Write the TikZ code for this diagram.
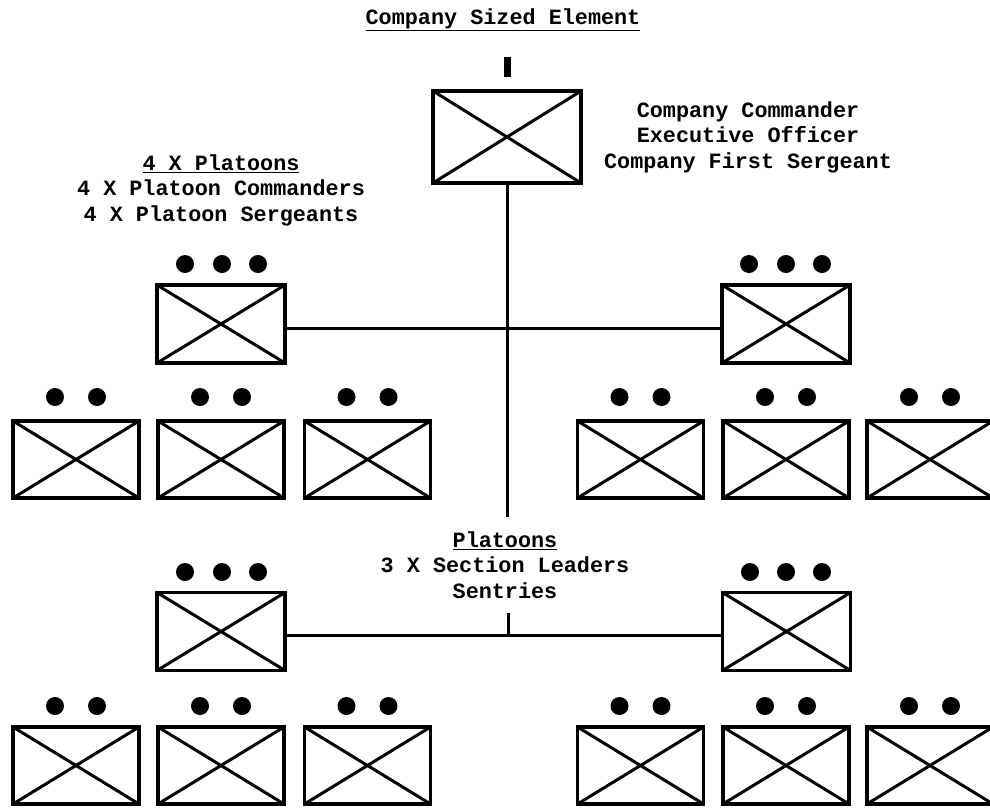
\documentclass[tikz,border=0pt]{standalone}
\usepackage{fontspec}
\newfontfamily\cour{Liberation Mono}
\begin{document}
\begin{tikzpicture}[x=1pt,y=-1pt,
 xbox/.style={draw, line width=3.5pt, rectangle, inner sep=0pt,
   path picture={\draw[line width=3pt] (path picture bounding box.north west) -- (path picture bounding box.south east)
     (path picture bounding box.north east) -- (path picture bounding box.south west);}},
 coybox/.style={xbox, minimum width=148pt, minimum height=92pt},
 pltbox/.style={xbox, minimum width=128pt, minimum height=78pt},
 secbox/.style={xbox, minimum width=126pt, minimum height=77pt},
 dotmark/.style={circle, fill, inner sep=0pt, minimum size=18pt},
 lbl/.style={font=\cour\bfseries\fontsize{21.8}{25.5}\selectfont, align=center, inner sep=0pt},
 conn/.style={line width=3pt}]
\useasboundingbox (0,0) rectangle (990,808);
\clip (0,0) rectangle (990,808);

% texts
\node[lbl] (title) at (503,20) {\underline{Company Sized Element}};
\node[lbl] (cmdtxt) at (748,137) {Company Commander\\Executive Officer\\Company First Sergeant};
\node[lbl] (pltxt) at (221,190) {\underline{4 X Platoons}\\4 X Platoon Commanders\\4 X Platoon Sergeants};
\node[lbl] (sectxt) at (505,565) {\underline{Platoons}\\3 X Section Leaders\\Sentries};

% company
\node[coybox] (coy) at (507,137) {};
\node[fill, inner sep=0pt, minimum width=7pt, minimum height=20pt] (hq) at (507,67) {};

% upper platoons
\node[pltbox] (pl) at (221,324) {};
\node[pltbox] (pr) at (786,324) {};
\foreach \x/\n in {185/a,222/b,258/c} \node[dotmark] (pld\n) at (\x,264) {};
\foreach \x/\n in {749/a,786/b,822/c} \node[dotmark] (prd\n) at (\x,264) {};

% upper sections
\foreach \x/\n in {76/1,221/2,367.5/3,640.5/4,786/5,930/6} {
  \node[secbox] (us\n) at (\x,459.5) {};
  \node[dotmark] (us\n a) at (\x-21,397) {};
  \node[dotmark] (us\n b) at (\x+21,397) {};
}

% lower platoons
\node[pltbox] (lpl) at (221,631.5) {};
\node[pltbox] (lpr) at (786.5,631.5) {};
\foreach \x/\n in {185/a,222/b,258/c} \node[dotmark] (lpld\n) at (\x,572) {};
\foreach \x/\n in {750/a,786/b,822/c} \node[dotmark] (lprd\n) at (\x,572) {};

% lower sections
\foreach \x/\n in {76/1,221/2,367.5/3,640.5/4,786/5,930/6} {
  \node[secbox] (ls\n) at (\x,765.5) {};
  \node[dotmark] (ls\n a) at (\x-21,706) {};
  \node[dotmark] (ls\n b) at (\x+21,706) {};
}

% connectors
\coordinate (vend) at (507,517);
\draw[conn] (coy.south) -- (vend);
\draw[conn] ([yshift=-4pt]pl.east) -- ([yshift=-4pt]pr.west);
\coordinate (hl) at ([yshift=-3.5pt]lpl.east);
\draw[conn] (hl) -- ([yshift=-3.5pt]lpr.west);
\coordinate (tick) at (508,613);
\draw[conn] (tick) -- (tick |- hl);
\end{tikzpicture}
\end{document}
